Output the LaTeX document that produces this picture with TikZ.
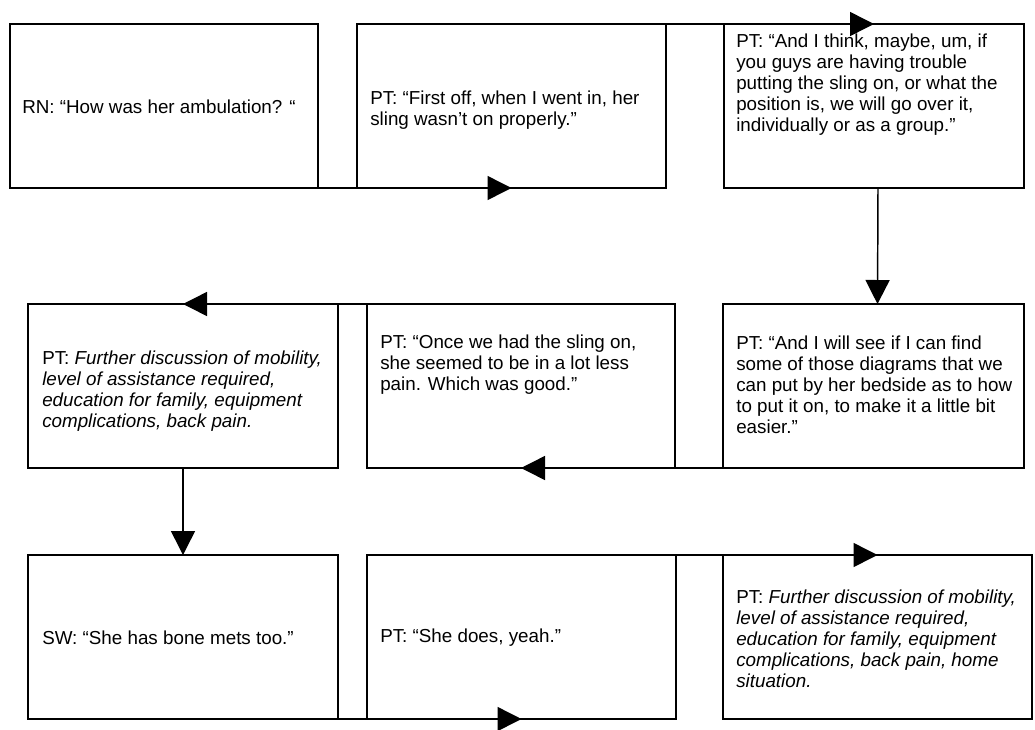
\documentclass[tikz,border=0pt]{standalone}
\usepackage{fontspec}
\setmainfont{Liberation Sans}
\usetikzlibrary{arrows.meta}
\begin{document}
\begin{tikzpicture}[x=0.75pt,y=-0.75pt,
  box/.style={draw, line width=1.1pt, inner sep=0pt, outer sep=0pt, minimum height=123pt},
  txt/.style={anchor=west, inner sep=0pt, align=left, font=\fontsize{14.1pt}{15.75pt}\selectfont},
  conn/.style={line width=1.1pt, -{Triangle[length=18pt,width=18pt]}}]
\useasboundingbox (0,0) rectangle (1035,729);
% boxes
\node[box, minimum width=231pt]    (b1) at (164,106) {};
\node[box, minimum width=231.75pt] (b2) at (511.5,106) {};
\node[box, minimum width=225pt]    (b3) at (874,106) {};
\node[box, minimum width=232.5pt]  (b4) at (183,386) {};
\node[box, minimum width=231pt]    (b5) at (521,386) {};
\node[box, minimum width=225.75pt] (b6) at (873.5,386) {};
\node[box, minimum width=232.5pt]  (b7) at (183,637) {};
\node[box, minimum width=231.75pt] (b8) at (521.5,637) {};
\node[box, minimum width=231.75pt] (b9) at (877.5,637) {};
% texts
\node[txt] (t1) at (22,107) {RN: “How was her ambulation? “};
\node[txt] (t2) at (370,110) {PT: “First off, when I went in, her\\sling wasn’t on properly.”};
\node[txt] (t3) at (736,85) {PT: “And I think, maybe, um, if\\you guys are having trouble\\putting the sling on, or what the\\position is, we will go over it,\\individually or as a group.”};
\node[txt] (t4) at (42,391) {PT: \textit{Further discussion of mobility,}\\\textit{level of assistance required,}\\\textit{education for family, equipment}\\\textit{complications, back pain.}};
\node[txt] (t5) at (380,365) {PT: “Once we had the sling on,\\she seemed to be in a lot less\\pain. Which was good.”};
\node[txt] (t6) at (736,385) {PT: “And I will see if I can find\\some of those diagrams that we\\can put by her bedside as to how\\to put it on, to make it a little bit\\easier.”};
\node[txt] (t7) at (42,638) {SW: “She has bone mets too.”};
\node[txt] (t8) at (380,638) {PT: “She does, yeah.”};
\node[txt] (t9) at (736,639) {PT: \textit{Further discussion of mobility,}\\\textit{level of assistance required,}\\\textit{education for family, equipment}\\\textit{complications, back pain, home}\\\textit{situation.}};
% connectors
\draw[conn] (b1.south) -- (b2.south);
\draw[conn] (b2.north) -- (b3.north);
\draw[conn] ([xshift=3pt]b3.south) -- ([xshift=3pt]b6.north);
\draw[conn] (b6.south) -- (b5.south);
\draw[conn] (b5.north) -- (b4.north);
\draw[conn] (b4.south) -- (b7.north);
\draw[conn] (b7.south) -- (b8.south);
\draw[conn] (b8.north) -- (b9.north);
\end{tikzpicture}
\end{document}
